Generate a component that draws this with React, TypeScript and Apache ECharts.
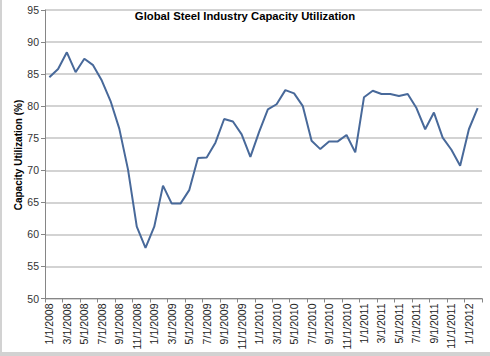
import React, { useEffect, useRef } from "react";
import * as echarts from "echarts";

const months: string[] = [];
for (let y = 2008; y <= 2012; y++) {
  for (let m = 1; m <= 12; m++) {
    if (y === 2012 && m > 2) break;
    months.push(`${m}/1/${y}`);
  }
}

const utilization: number[] = [
  84.5, 85.8, 88.4, 85.3, 87.4, 86.4, 84.0, 80.8, 76.5, 70.1, 61.2, 57.9,
  61.2, 67.6, 64.8, 64.8, 66.9, 71.9, 72.0, 74.3, 78.0, 77.6, 75.6, 72.1,
  76.0, 79.5, 80.3, 82.5, 82.0, 80.0, 74.6, 73.3, 74.5, 74.5, 75.5, 72.8,
  81.4, 82.4, 81.9, 81.9, 81.6, 81.9, 79.7, 76.4, 79.0, 75.1, 73.2, 70.7,
  76.4, 79.7,
];

const titleText = "Global Steel Industry Capacity Utilization";
const yTitle = "Capacity Utilization (%)";

const FONT = "'Liberation Sans', Arial, sans-serif";

export default function App() {
  const ref = useRef<HTMLDivElement>(null);
  useEffect(() => {
    if (!ref.current) return;
    const chart = echarts.init(ref.current, undefined, { renderer: "svg" });
    chart.setOption({
      animation: false,
      backgroundColor: "#ffffff",
      textStyle: { fontFamily: FONT },
      title: {
        text: titleText,
        left: "center",
        top: 5,
        textStyle: { fontFamily: FONT, fontSize: 11.3, fontWeight: "bold", color: "#000" },
      },
      grid: { left: 45, right: 8, top: 10, bottom: 57.5, containLabel: false },
      xAxis: {
        type: "category",
        data: months,
        boundaryGap: true,
        axisLine: { show: true, lineStyle: { color: "#868686", width: 1 } },
        axisTick: { show: true, interval: 1, length: 4, lineStyle: { color: "#868686" } },
        axisLabel: {
          interval: 1,
          rotate: 90,
          margin: 5,
          fontSize: 10.5,
          color: "#222",
          fontFamily: FONT,
        },
      },
      yAxis: {
        type: "value",
        min: 50,
        max: 95,
        interval: 5,
        axisLine: { show: true, lineStyle: { color: "#868686", width: 1 } },
        axisTick: { show: true, length: 4, lineStyle: { color: "#868686" } },
        axisLabel: { fontSize: 10.5, color: "#333", margin: 6, fontFamily: FONT },
        splitLine: { show: true, lineStyle: { color: "#c4c4c4", width: 1.5 } },
      },
      series: [
        {
          type: "line",
          data: utilization,
          symbol: "none",
          lineStyle: { color: "#48699a", width: 2 },
        },
      ],
      graphic: [
        { type: "rect", left: 0, top: 0, shape: { width: 2, height: 356 }, style: { fill: "#d2d2d2" }, silent: true },
        { type: "rect", left: 0, top: 352, shape: { width: 490, height: 4 }, style: { fill: "#d2d2d2" }, silent: true },
        {
          type: "text",
          x: 18.5,
          y: 155,
          rotation: Math.PI / 2,
          silent: true,
          style: {
            text: yTitle,
            fontFamily: FONT,
            fontSize: 10,
            fontWeight: "bold",
            fill: "#000",
            align: "center",
            verticalAlign: "middle",
          },
        },
      ],
    });
    return () => chart.dispose();
  }, []);
  return (
    <div
      ref={ref}
      style={{ position: "fixed", left: 0, top: 0, width: 490, height: 356 }}
    />
  );
}
